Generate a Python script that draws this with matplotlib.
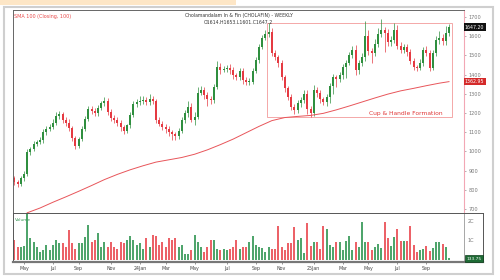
import matplotlib.pyplot as plt
from matplotlib.patches import Rectangle

# weekly closes
closes = [841, 828, 860, 880, 995, 1010, 1040, 1048, 1058, 1100,
          1118, 1128, 1150, 1182, 1192, 1165, 1150, 1120, 1070, 1030,
          1065, 1115, 1170, 1222, 1210, 1198, 1225, 1250, 1262, 1205,
          1175, 1162, 1150, 1125, 1108, 1135, 1190, 1245, 1255, 1262,
          1268, 1255, 1272, 1260, 1165, 1145, 1128, 1118, 1100, 1088,
          1080, 1105, 1165, 1200, 1232, 1165, 1180, 1305, 1320, 1295,
          1275, 1265, 1335, 1440, 1425, 1430, 1436, 1425, 1395, 1388,
          1420, 1372, 1362, 1362, 1420, 1476, 1544, 1592, 1610, 1620,
          1512, 1490, 1458, 1385, 1330, 1285, 1232, 1216, 1250, 1268,
          1300, 1220, 1200, 1318, 1305, 1270, 1258, 1282, 1340, 1385,
          1375, 1395, 1440, 1462, 1500, 1526, 1425, 1458, 1490, 1600,
          1520, 1512, 1560, 1612, 1630, 1618, 1568, 1578, 1630, 1550,
          1530, 1542, 1515, 1470, 1440, 1435, 1462, 1528, 1512, 1435,
          1512, 1578, 1590, 1572, 1615, 1647.2]
first_open = 862

upper_wick = [12, 10, 14, 20, 15, 12, 14, 12, 16, 14,
              12, 14, 16, 22, 18, 14, 12, 16, 14, 12,
              12, 18, 16, 14, 12, 16, 14, 12, 22, 18,
              14, 12, 16, 12, 14, 10, 14, 16, 20, 24,
              18, 14, 26, 18, 12, 14, 12, 16, 14, 12,
              12, 14, 16, 14, 30, 20, 24, 30, 18, 14,
              16, 12, 14, 30, 20, 16, 14, 18, 12, 14,
              16, 12, 14, 18, 14, 16, 14, 16, 22, 50,
              20, 18, 14, 16, 14, 12, 14, 12, 16, 14,
              18, 20, 14, 26, 18, 14, 12, 16, 18, 16,
              14, 18, 16, 14, 18, 24, 26, 18, 20, 80,
              30, 20, 24, 30, 60, 20, 18, 24, 40, 30,
              20, 18, 16, 20, 14, 12, 18, 16, 20, 16,
              18, 22, 36, 20, 40, 15]
lower_wick = [14, 12, 10, 12, 10, 14, 10, 12, 10, 12,
              14, 10, 12, 12, 14, 18, 16, 14, 18, 20,
              14, 12, 10, 12, 16, 14, 12, 10, 14, 18,
              16, 14, 16, 18, 20, 14, 12, 10, 14, 12,
              16, 14, 12, 16, 18, 14, 16, 20, 18, 30,
              22, 14, 12, 16, 20, 14, 30, 12, 14, 20,
              40, 16, 14, 12, 20, 14, 16, 20, 18, 16,
              14, 20, 16, 14, 12, 10, 14, 12, 14, 16,
              14, 16, 18, 16, 20, 18, 16, 20, 14, 18,
              16, 24, 22, 14, 20, 18, 16, 24, 30, 40,
              40, 16, 20, 60, 14, 16, 30, 20, 14, 18,
              16, 50, 14, 18, 16, 100, 20, 18, 14, 16,
              18, 16, 20, 14, 18, 16, 14, 18, 16, 18,
              14, 16, 18, 20, 16, 12]

# volume in crores
volumes = [1.03, 0.66, 0.66, 0.7, 2.5, 1.13, 0.94, 0.66, 0.4, 0.49,
           0.76, 0.49, 0.76, 1.03, 0.85, 0.85, 0.66, 1.57, 0.85, 0.58,
           0.85, 0.85, 1.2, 1.84, 0.94, 1.03, 1.4, 0.66, 0.94, 0.66,
           0.94, 0.66, 0.58, 0.94, 0.85, 1.03, 1.22, 1.03, 0.76, 0.85,
           0.58, 1.13, 0.66, 1.3, 1.22, 0.76, 0.94, 0.66, 1.13, 1.03,
           1.13, 0.66, 0.76, 0.3, 0.3, 0.49, 1.3, 0.94, 0.66, 0.4,
           0.66, 1.03, 1.03, 0.58, 0.49, 0.58, 0.49, 0.58, 0.66, 1.03,
           0.58, 0.66,
           0.66, 0.94, 1.22, 0.76, 0.66, 0.62, 0.4, 0.66, 0.58, 0.58,
           1.75, 0.66, 0.51, 0.85, 0.85, 1.7, 1.03, 1.13, 0.35, 1.9,
           0.7, 0.9, 0.94, 0.58, 1.75, 1.6, 0.76, 0.66, 0.94, 0.9, 0.49,
           0.98, 1.25, 0.51, 0.94, 0.66, 1.95, 0.94, 0.94, 0.49, 0.66,
           0.8, 0.6, 2.0, 1.13, 0.7, 1.2, 1.6, 1.0, 0.98, 1.0, 1.75,
           0.76, 0.4, 0.51, 0.58, 0.7, 0.45, 0.6, 0.9, 0.9, 0.8, 0.66,
           0.1]

# 100-week SMA, sampled every few candles
sma_idx = [4, 8, 12, 16, 20, 24, 28, 32, 36, 40, 44, 48, 52, 56, 60, 64, 68, 72,
           76, 80, 84, 88, 92, 96, 100, 104, 108, 112, 116, 120, 124, 128, 132, 135]
sma_vals = [680, 705, 735, 763, 792, 822, 853, 880, 904, 925, 944, 956, 968, 985,
            1008, 1035, 1064, 1097, 1130, 1160, 1176, 1182, 1187, 1198, 1216, 1236,
            1257, 1278, 1298, 1315, 1328, 1342, 1355, 1363]

tick_pos = [3, 12, 20, 30, 39, 47, 56, 66, 75, 83, 93, 102, 110, 119, 128]
tick_labels = ['May', 'Jul', 'Sep', 'Nov', '24Jan', 'Mar', 'May', 'Jul', 'Sep', 'Nov',
               '25Jan', 'Mar', 'May', 'Jul', 'Sep']
price_ticks = [700, 800, 900, 1000, 1100, 1200, 1300, 1400, 1500, 1600, 1700]

# cup & handle box
cup_start, cup_end = 78.4, 135.9
cup_low, cup_high = 1178, 1670

opens = [first_open] + closes[:-1]
highs = [max(o, c) + u for o, c, u in zip(opens, closes, upper_wick)]
lows = [min(o, c) - l for o, c, l in zip(opens, closes, lower_wick)]
idx = list(range(len(closes)))
green, red = '#2f8f3f', '#e53a42'
cols = [green if c >= o else red for o, c in zip(opens, closes)]
vcols = ['#4fa56c' if c >= o else '#ec6268' for o, c in zip(opens, closes)]

W, H = 500, 280
def box(x0, y0, x1, y1):
    return [x0 / W, 1 - y1 / H, (x1 - x0) / W, (y1 - y0) / H]

fig = plt.figure(figsize=(5, 2.8), dpi=100)
fig.add_artist(Rectangle((0, 1 - 5 / H), 236 / W, 5 / H, transform=fig.transFigure,
                         facecolor='#fde6c6', edgecolor='none'))
fig.add_artist(Rectangle((4 / W, 1 - 274 / H), 489 / W, 267 / H, transform=fig.transFigure,
                         facecolor='none', edgecolor='#cfcfcf', lw=1.5))

ax = fig.add_axes(box(13, 10, 464, 213))
axv = fig.add_axes(box(13, 213, 483, 262))

# candles
ax.vlines(idx, lows, highs, colors=cols, lw=0.5)
ax.bar(idx, [max(abs(c - o), 3) for o, c in zip(opens, closes)],
       bottom=[min(o, c) for o, c in zip(opens, closes)], width=0.62, color=cols)
ax.plot(sma_idx, sma_vals, color='#e8555a', lw=0.7)
ax.add_patch(Rectangle((cup_start, cup_low), cup_end - cup_start, cup_high - cup_low,
                       facecolor='none', edgecolor='#f29a9a', lw=0.6))
ax.text(121.5, 1195, 'Cup & Handle Formation', color='#e03535',
        fontsize=4.3, ha='center', va='center')

ax.set_xlim(-0.4, 139.66)
ax.set_ylim(679, 1736)
ax.set_xticks([])
ax.yaxis.tick_right()
ax.set_yticks(price_ticks)
ax.tick_params(axis='y', labelsize=3.6, colors='#777777', length=1.5, width=0.4, pad=1.5)
for s in ['top', 'left', 'bottom']:
    ax.spines[s].set_color('#666666')
    ax.spines[s].set_linewidth(0.7)
ax.spines['right'].set_color('#f2a7b5')
ax.spines['right'].set_linewidth(0.8)

ax.text(0.003, 0.978, 'SMA 100 (Closing, 100)', transform=ax.transAxes, color='#e84a4a',
        fontsize=3.5, ha='left', va='top')
ax.text(0.5, 0.985, 'Cholamandalam In & Fin (CHOLAFIN) - WEEKLY', transform=ax.transAxes,
        color='#333333', fontsize=3.3, ha='center', va='top')
ax.text(0.5, 0.95, 'O1614.H1653.L1601.C1647.2', transform=ax.transAxes,
        color='#333333', fontsize=3.3, ha='center', va='top')
ax.text(1.002, 1647.2, '1647.20', transform=ax.get_yaxis_transform(), color='white',
        fontsize=3.4, ha='left', va='center',
        bbox=dict(boxstyle='square,pad=0.25', facecolor='#111111', edgecolor='none'))
ax.text(1.002, 1363, '1362.95', transform=ax.get_yaxis_transform(), color='white',
        fontsize=3.4, ha='left', va='center',
        bbox=dict(boxstyle='square,pad=0.25', facecolor='#d42a2a', edgecolor='none'))

# volume panel
axv.bar(idx, volumes, width=0.62, color=vcols)
axv.set_xlim(-0.4, 145.56)
axv.set_ylim(-0.13, 2.45)
axv.axvline(139.66, color='#999999', lw=0.6)
axv.set_yticks([])
axv.set_xticks(tick_pos)
axv.set_xticklabels(tick_labels)
axv.tick_params(axis='x', labelsize=3.4, colors='#444444', length=1.5, width=0.4, pad=1.5)
for s in ['top', 'left', 'right']:
    axv.spines[s].set_color('#555555')
    axv.spines[s].set_linewidth(0.7)
axv.spines['bottom'].set_color('#777777')
axv.spines['bottom'].set_linewidth(1.6)
axv.text(0.004, 0.9, 'Volume', transform=axv.transAxes, color='#3c9a5a', fontsize=3.2,
         ha='left', va='top')
for v, lab in [(2, '2C'), (1, '1C')]:
    axv.text(140.8, v, lab, color='#777777', fontsize=3.6, ha='left', va='center')
axv.text(140.3, 0.05, '133.75', color='white', fontsize=3.2, ha='left', va='center',
         bbox=dict(boxstyle='square,pad=0.3', facecolor='#1e6b35', edgecolor='#0d3d1b', lw=0.5))

fig.savefig('out.png', dpi=100)
